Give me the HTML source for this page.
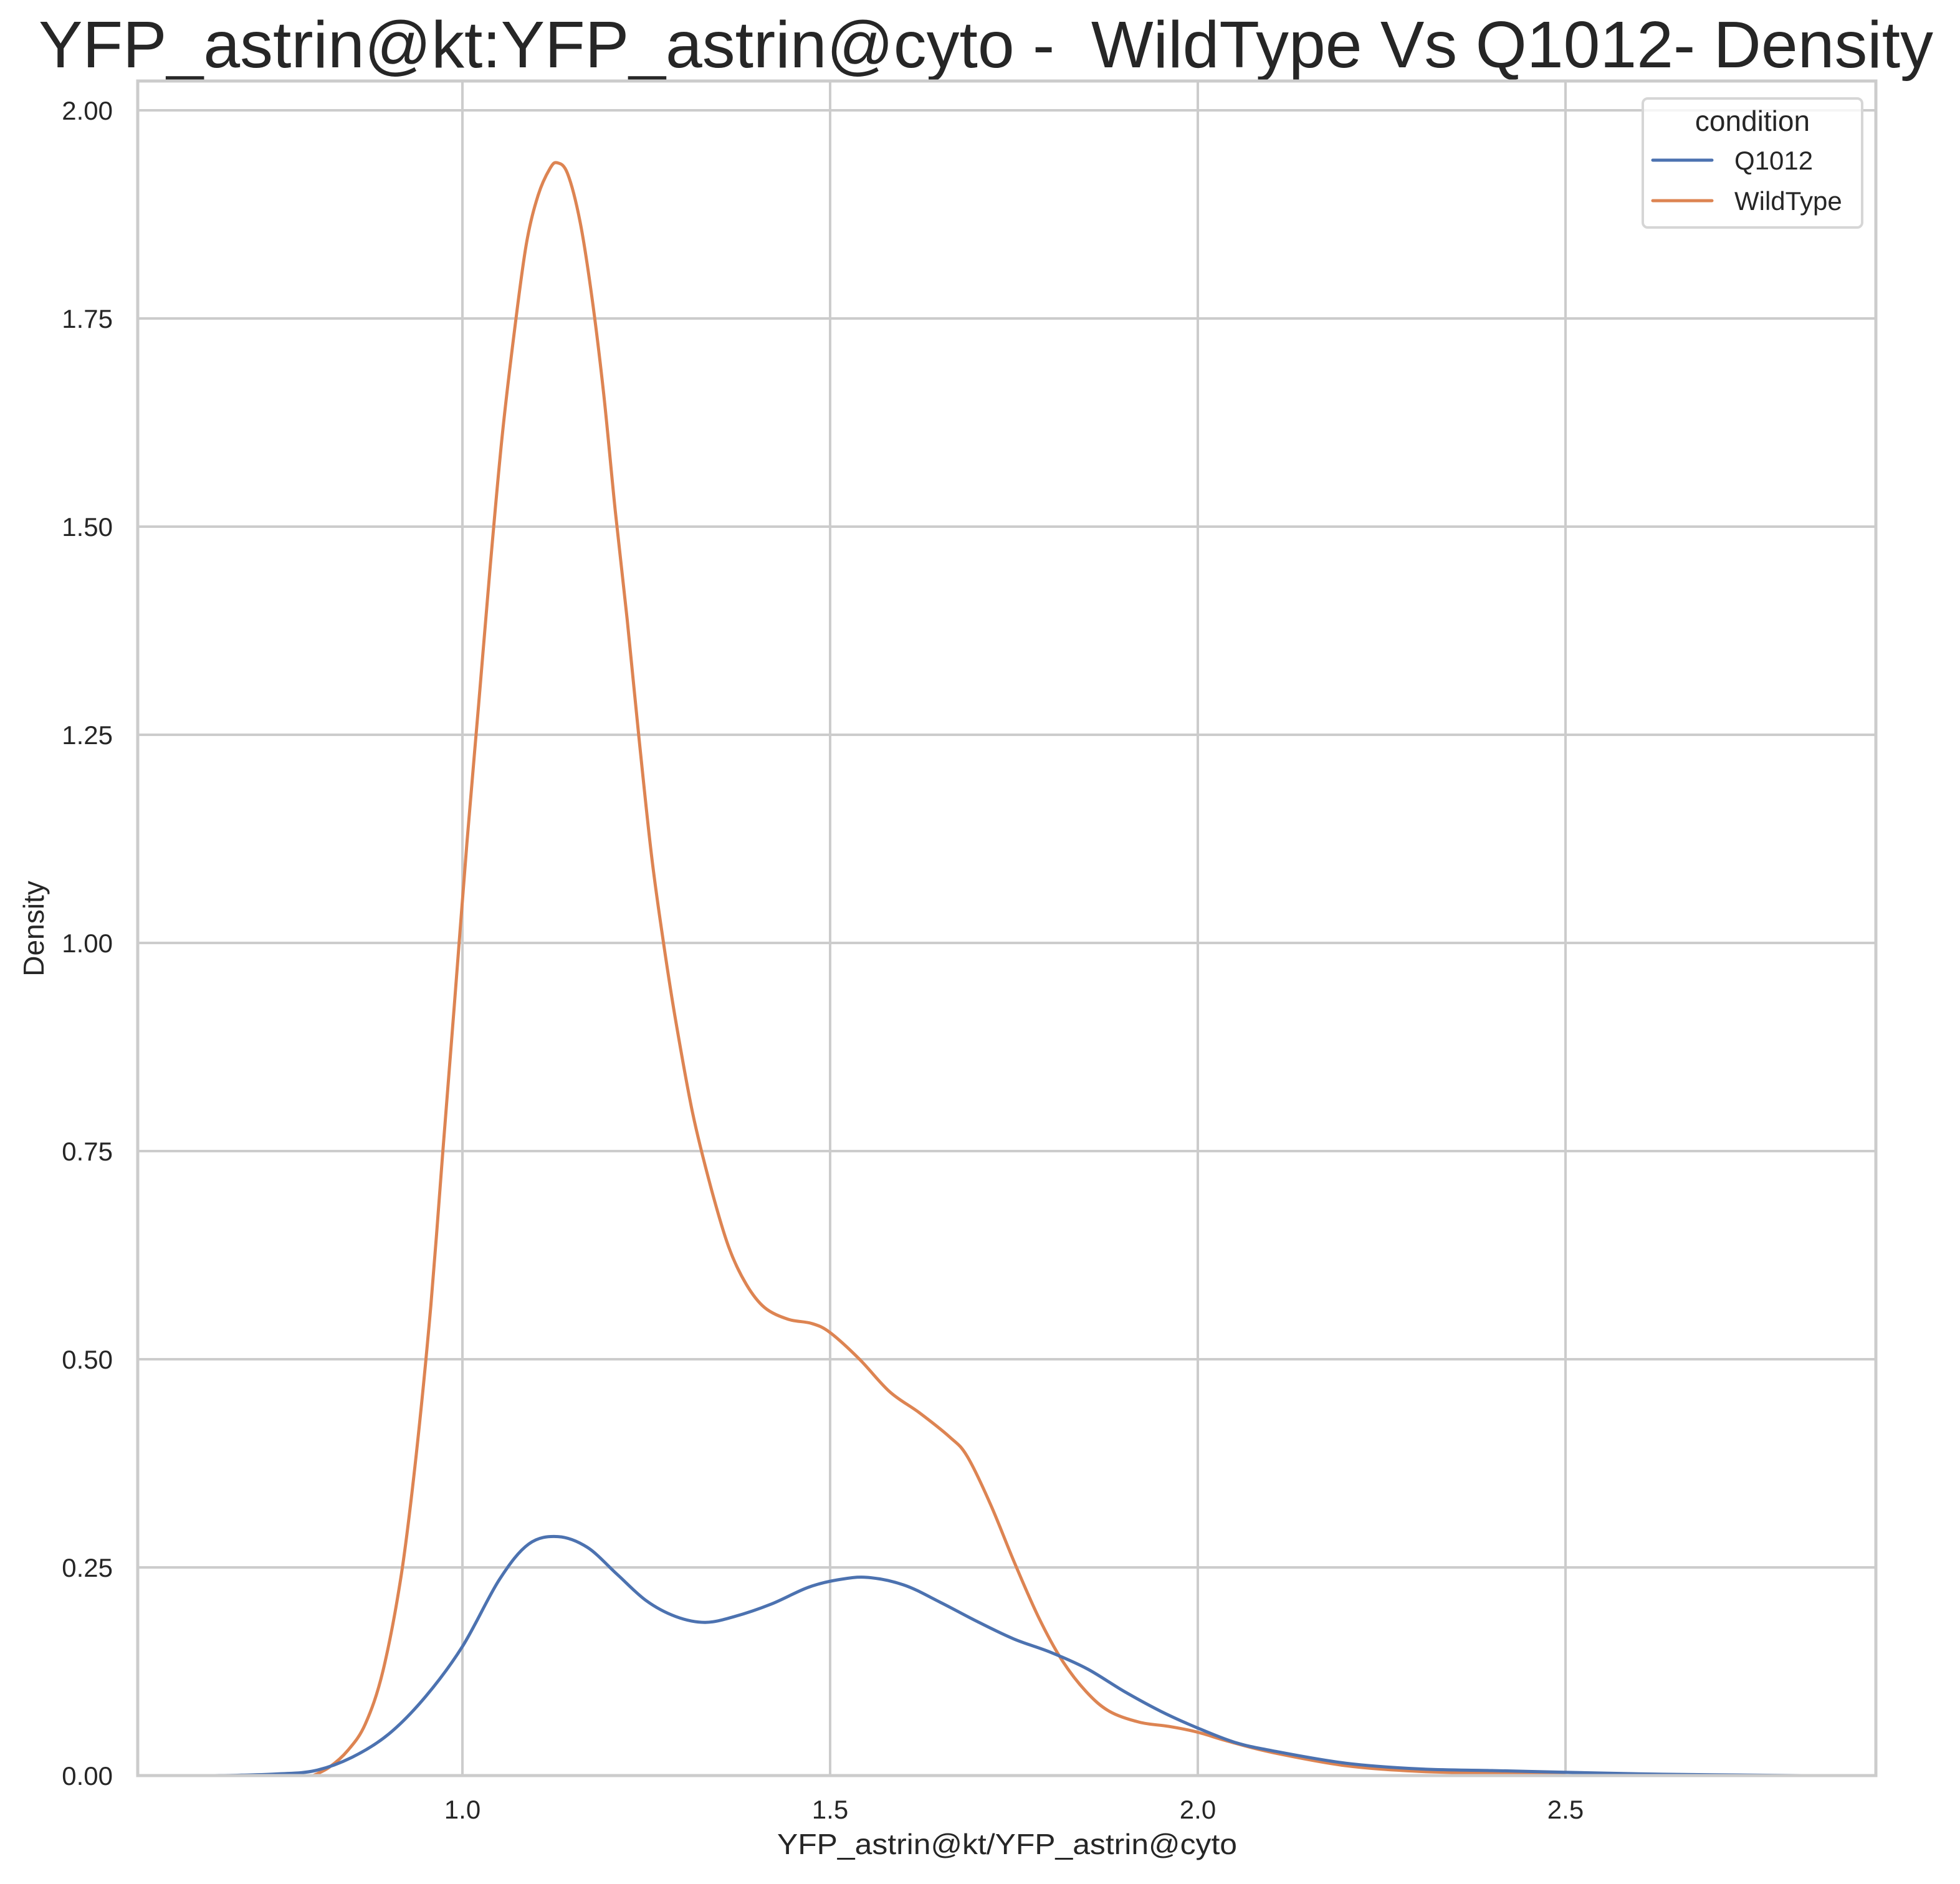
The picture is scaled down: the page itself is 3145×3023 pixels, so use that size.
<!DOCTYPE html>
<html><head><meta charset="utf-8"><style>
html,body{margin:0;padding:0;background:#fff;}
svg{display:block;font-family:"Liberation Sans",Arial,sans-serif;}
</style></head><body>
<svg id="chart" width="3145" height="3023" viewBox="0 0 3145 3023" xmlns="http://www.w3.org/2000/svg">
<rect x="0" y="0" width="3145" height="3023" fill="#fff"/>
<text x="1582" y="108" font-size="106" text-anchor="middle" fill="#262626" textLength="3040" lengthAdjust="spacingAndGlyphs" style="white-space:pre" xml:space="preserve">YFP_astrin@kt:YFP_astrin@cyto -  WildType Vs Q1012- Density</text>
<g id="grid"></g>
<g id="series"></g>
<rect x="221" y="130" width="2789" height="2719" fill="none" stroke="#cccccc" stroke-width="5"/>
<g id="ticks"></g>
<text x="1616" y="2975" font-size="46" text-anchor="middle" fill="#262626" textLength="738" lengthAdjust="spacingAndGlyphs">YFP_astrin@kt/YFP_astrin@cyto</text>
<text transform="translate(70,1490) rotate(-90)" font-size="46" text-anchor="middle" fill="#262626">Density</text>
<g>
<rect x="2636" y="158" width="352" height="207" rx="8" fill="#fff" fill-opacity="0.8" stroke="#d6d6d6" stroke-width="4"/>
<text x="2812" y="210" font-size="46" text-anchor="middle" fill="#262626">condition</text>
<line x1="2652" y1="257" x2="2747" y2="257" stroke="#4c72b0" stroke-width="5" stroke-linecap="round"/>
<text x="2783" y="272" font-size="42" fill="#262626">Q1012</text>
<line x1="2652" y1="322" x2="2747" y2="322" stroke="#dd8452" stroke-width="5" stroke-linecap="round"/>
<text x="2783" y="337" font-size="42" fill="#262626">WildType</text>
</g>
</svg>
<script>
const xTicks = [1.0, 1.5, 2.0, 2.5];
const xTickLabels = ["1.0", "1.5", "2.0", "2.5"];
const yTicks = [0, 0.25, 0.5, 0.75, 1.0, 1.25, 1.5, 1.75, 2.0];
const yTickLabels = ["0.00","0.25","0.50","0.75","1.00","1.25","1.50","1.75","2.00"];
const q1012X = [0.664,0.70,0.75,0.80,0.85,0.90,0.95,1.0,1.05,1.09,1.13,1.17,1.21,1.25,1.29,1.33,1.37,1.42,1.47,1.51,1.55,1.60,1.65,1.70,1.75,1.80,1.85,1.90,1.95,2.0,2.05,2.1,2.2,2.3,2.4,2.5,2.6,2.7,2.82];
const q1012Y = [0,0.0005,0.002,0.006,0.022,0.050,0.095,0.155,0.235,0.278,0.287,0.274,0.242,0.210,0.191,0.184,0.191,0.206,0.226,0.235,0.238,0.229,0.208,0.185,0.164,0.148,0.128,0.101,0.077,0.057,0.040,0.030,0.015,0.008,0.006,0.004,0.002,0.001,0];
const wildX = [0.797,0.819,0.844,0.868,0.892,0.917,0.937,0.957,0.973,0.989,1.006,1.022,1.038,1.054,1.071,1.087,1.103,1.119,1.129,1.143,1.160,1.176,1.192,1.208,1.224,1.240,1.257,1.273,1.289,1.313,1.338,1.362,1.386,1.411,1.443,1.475,1.5,1.540,1.581,1.621,1.662,1.686,1.718,1.751,1.783,1.815,1.848,1.880,1.921,1.961,2.0,2.042,2.1,2.2,2.3,2.4,2.5];
const wildY = [0,0.01,0.03,0.062,0.126,0.242,0.384,0.564,0.745,0.925,1.119,1.286,1.454,1.608,1.737,1.840,1.898,1.930,1.937,1.924,1.866,1.776,1.660,1.518,1.389,1.247,1.106,1.003,0.912,0.796,0.706,0.635,0.590,0.562,0.548,0.543,0.532,0.500,0.461,0.436,0.407,0.384,0.326,0.255,0.191,0.139,0.101,0.077,0.064,0.059,0.052,0.041,0.028,0.012,0.005,0.003,0.002];

const NS = "http://www.w3.org/2000/svg";
const L = 221, R = 3010, T = 130, B = 2849;
function xScale(v){ return 742 + (v - 1.0) * 1180; }
function yScale(v){ return B - v * 1336; }

const grid = document.getElementById('grid');
const ticks = document.getElementById('ticks');
xTicks.forEach((t, i) => {
  const ln = document.createElementNS(NS, 'line');
  
  
  ln.setAttribute('x1', xScale(t)); ln.setAttribute('x2', xScale(t));
  ln.setAttribute('y1', T); ln.setAttribute('y2', B);
  ln.setAttribute('stroke', '#cccccc'); ln.setAttribute('stroke-width', '4');
  grid.appendChild(ln);
  const tx = document.createElementNS(NS, 'text');
  
  
  tx.setAttribute('x', xScale(t)); tx.setAttribute('y', 2918);
  tx.setAttribute('font-size', '42'); tx.setAttribute('text-anchor', 'middle'); tx.setAttribute('fill', '#262626');
  tx.textContent = xTickLabels[i];
  ticks.appendChild(tx);
});
yTicks.forEach((t, i) => {
  const ln = document.createElementNS(NS, 'line');
  
  
  ln.setAttribute('x1', L); ln.setAttribute('x2', R);
  ln.setAttribute('y1', yScale(t)); ln.setAttribute('y2', yScale(t));
  ln.setAttribute('stroke', '#cccccc'); ln.setAttribute('stroke-width', '4');
  grid.appendChild(ln);
  const tx = document.createElementNS(NS, 'text');
  
  
  tx.setAttribute('x', 181); tx.setAttribute('y', yScale(t) + 15);
  tx.setAttribute('font-size', '42'); tx.setAttribute('text-anchor', 'end'); tx.setAttribute('fill', '#262626');
  tx.textContent = yTickLabels[i];
  ticks.appendChild(tx);
});

function smoothPath(xs, ys){
  const p = xs.map((x, i) => [xScale(x), yScale(ys[i])]);
  let d = 'M' + p[0][0].toFixed(1) + ',' + p[0][1].toFixed(1);
  for (let i = 0; i < p.length - 1; i++){
    const p0 = p[i-1] || p[i], p1 = p[i], p2 = p[i+1], p3 = p[i+2] || p[i+1];
    const c1x = p1[0] + (p2[0]-p0[0])/6, c1y = p1[1] + (p2[1]-p0[1])/6;
    const c2x = p2[0] - (p3[0]-p1[0])/6, c2y = p2[1] - (p3[1]-p1[1])/6;
    d += ' C' + c1x.toFixed(1) + ',' + Math.min(c1y,B).toFixed(1) + ' ' + c2x.toFixed(1) + ',' + Math.min(c2y,B).toFixed(1) + ' ' + p2[0].toFixed(1) + ',' + p2[1].toFixed(1);
  }
  return d;
}
const series = document.getElementById('series');
const blue = document.createElementNS(NS, 'path');


blue.setAttribute('d', smoothPath(q1012X, q1012Y));
blue.setAttribute('fill', 'none'); blue.setAttribute('stroke', '#4c72b0'); blue.setAttribute('stroke-width', '5');
const orange = document.createElementNS(NS, 'path');


orange.setAttribute('d', smoothPath(wildX, wildY));
orange.setAttribute('fill', 'none'); orange.setAttribute('stroke', '#dd8452'); orange.setAttribute('stroke-width', '5');
series.appendChild(orange);
series.appendChild(blue);
</script>
</body></html>
